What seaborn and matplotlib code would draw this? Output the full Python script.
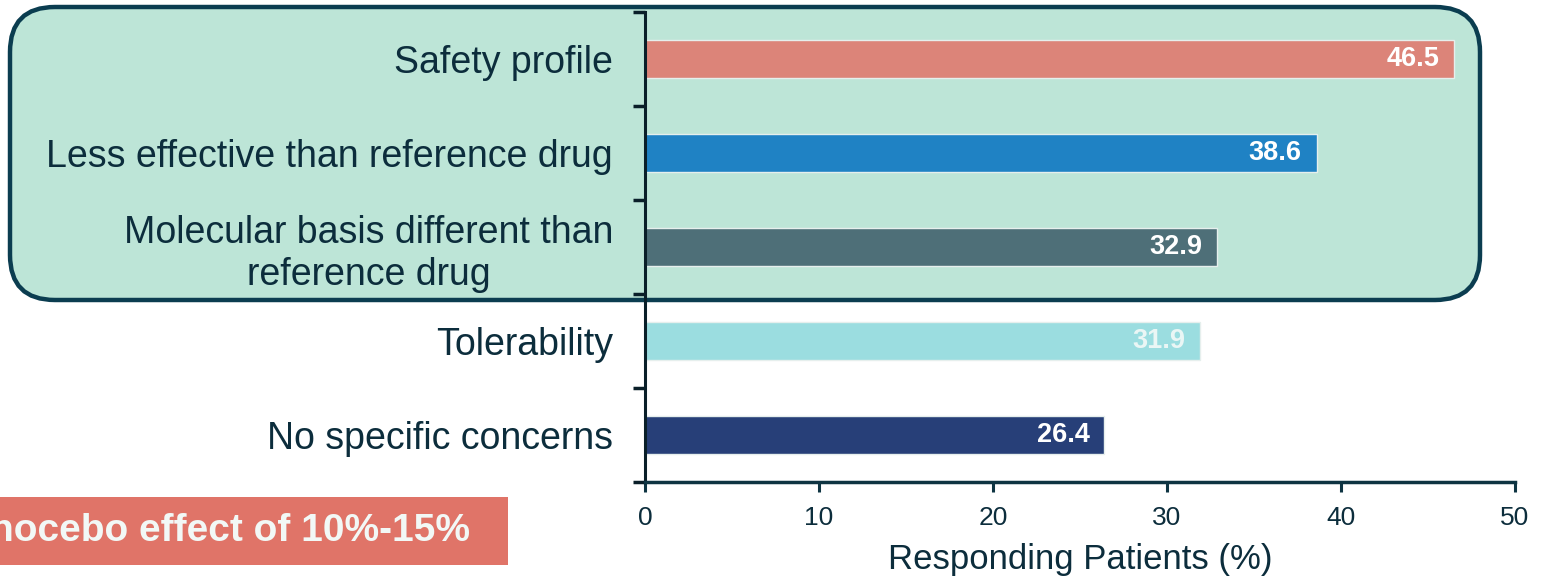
import matplotlib
matplotlib.use("Agg")
import matplotlib.pyplot as plt
from matplotlib.patches import FancyBboxPatch, Rectangle
import seaborn as sns
import pandas as pd

# Patient-reported concerns and the share of responders naming each
concerns = [
    "Safety profile",
    "Less effective than reference drug",
    "Molecular basis different than\nreference drug",
    "Tolerability",
    "No specific concerns",
]
responding_pct = [46.5, 38.6, 32.9, 31.9, 26.4]
bar_colors = ["#dc8479", "#1f82c4", "#4e6f78", "#9bdde0", "#273f78"]
label_colors = ["#ffffff", "#ffffff", "#ffffff", "#eaf6f5", "#ffffff"]
x_ticks = [0, 10, 20, 30, 40, 50]
x_label = "Responding Patients (%)"
callout_text = "nocebo effect of 10%-15%"

text_dark = "#0c2d3c"

sns.set_theme(style="white")
plt.rcParams["font.family"] = ["Liberation Sans", "DejaVu Sans"]

df = pd.DataFrame({"concern": concerns, "pct": responding_pct})
palette = dict(zip(concerns, bar_colors))

fig = plt.figure(figsize=(15.49, 5.81), dpi=100)
fig.patch.set_facecolor("white")

# Rounded highlight panel behind the first three concerns
panel = FancyBboxPatch(
    (0.10, 2.81), 14.70, 2.93,
    boxstyle="round,pad=0,rounding_size=0.45",
    transform=fig.dpi_scale_trans,
    facecolor="#bde5d7", edgecolor="#0b3d50", linewidth=3.2, zorder=-2,
)
fig.add_artist(panel)

# Callout box at lower left (its text runs past the left edge)
callout = Rectangle(
    (0.0, 0.16), 5.08, 0.68,
    transform=fig.dpi_scale_trans,
    facecolor="#e07468", edgecolor="none", zorder=-2,
)
fig.add_artist(callout)
fig.text(4.70, 0.50, callout_text, transform=fig.dpi_scale_trans,
         ha="right", va="center", fontsize=28, fontweight="bold",
         color="#f2f8f6")

ax = fig.add_axes([645 / 1549, 1 - 482 / 581, 870 / 1549, 470 / 581])
ax.patch.set_visible(False)

sns.barplot(
    data=df, x="pct", y="concern", hue="concern", palette=palette,
    width=0.4, legend=False, ax=ax, orient="h",
    edgecolor="#e6efed", linewidth=1.0, saturation=1,
)

ax.set_xlim(0, 50)
ax.set_ylim(4.5, -0.5)

# Value labels inside the bar ends
for i, (val, col) in enumerate(zip(responding_pct, label_colors)):
    ax.text(val - 0.85, i, f"{val:.1f}", ha="right", va="center",
            fontsize=19.5, fontweight="bold", color=col)

# Axes styling
for side in ("top", "right"):
    ax.spines[side].set_visible(False)
ax.spines["left"].set_color("#0a1f29")
ax.spines["left"].set_linewidth(2.2)
ax.spines["bottom"].set_color("#0e3442")
ax.spines["bottom"].set_linewidth(2.5)

ax.set_xticks(x_ticks)
ax.set_xticklabels([str(t) for t in x_ticks])
ax.tick_params(axis="x", direction="out", length=7, width=2.2,
               color="#0e3442", labelsize=19, labelcolor=text_dark, pad=10,
               bottom=True)

ax.set_yticks(range(len(concerns)))
ax.set_yticklabels(concerns)
for lbl in ax.get_yticklabels():
    lbl.set_multialignment("center")
ax.tick_params(axis="y", which="major", length=0, labelsize=27,
               labelcolor=text_dark, pad=23, left=False)
ax.set_yticks([i - 0.5 for i in range(len(concerns) + 1)], minor=True)
ax.tick_params(axis="y", which="minor", direction="out", length=9,
               width=2.5, color="#0a1f29", left=True)

ax.set_xlabel(x_label, fontsize=25, color=text_dark, labelpad=10)
ax.set_ylabel("")

fig.savefig("out.png", dpi=100)
